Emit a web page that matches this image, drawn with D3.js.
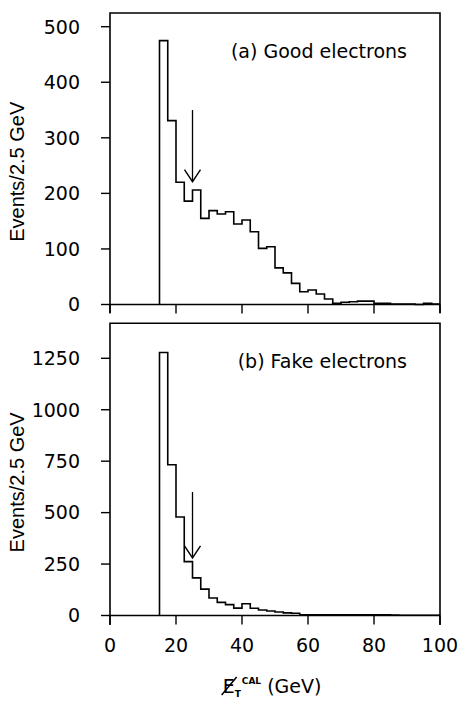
<!DOCTYPE html>
<html>
<head>
<meta charset="utf-8">
<script src="https://cdn.jsdelivr.net/npm/d3@7"></script>
<style>
  html, body { margin: 0; padding: 0; background: #fff; }
  svg { display: block; }
  text { fill: #000; }
</style>
</head>
<body>
<svg id="chart" width="459" height="702"></svg>
<script>
// Missing transverse energy (calorimeter), 2.5 GeV bins starting at 15 GeV
const binWidth = 2.5;
const binStart = 15;

// (a) Good electrons: events per bin
const goodCounts = [475, 331, 220, 186, 206, 155, 169, 163, 167, 145, 152, 131,
                    101, 104, 66, 57, 38, 23, 26, 19, 10, 2, 4, 5, 6, 6, 2, 2,
                    1, 1, 1, 0, 2, 1];

// (b) Fake electrons: events per bin
const fakeCounts = [1278, 733, 479, 262, 183, 128, 85, 64, 53, 36, 57, 35,
                    27, 22, 17, 13, 11, 4, 3, 3, 3, 3, 3, 3, 3, 3, 3, 3,
                    2, 1, 1, 1, 1, 1];

// Cut arrows: [x (GeV), tail (events), tip (events)]
const goodArrow = [25, 350, 221];
const fakeArrow = [25, 600, 280];

const xTicks = [0, 20, 40, 60, 80, 100];
const goodYTicks = [0, 100, 200, 300, 400, 500];
const fakeYTicks = [0, 250, 500, 750, 1000, 1250];

const panelLabels = ["(a) Good electrons", "(b) Fake electrons"];
const yTitle = "Events/2.5 GeV";

const svg = d3.select("#chart");
const FONT = "'DejaVu Sans', sans-serif";

const x = d3.scaleLinear().domain([0, 100]).range([110, 440]);

const panels = [
  { counts: goodCounts, arrow: goodArrow, yTicks: goodYTicks, label: panelLabels[0],
    y: d3.scaleLinear().domain([0, 500]).range([304.5, 26.7]),
    top: 13, bottom: 313, showXLabels: false },
  { counts: fakeCounts, arrow: fakeArrow, yTicks: fakeYTicks, label: panelLabels[1],
    y: d3.scaleLinear().domain([0, 1250]).range([615.5, 358.3]),
    top: 323.3, bottom: 625, showXLabels: true }
];

panels.forEach(p => {
  const g = svg.append("g");
  const y0 = p.y(0);

  // frame: top and sides, zero line as the base
  g.append("path")
    .attr("d", `M${x(0)},${p.bottom}V${p.top}H${x(100)}V${p.bottom}`)
    .attr("fill", "none").attr("stroke", "#000").attr("stroke-width", 1.6);
  g.append("line")
    .attr("x1", x(0)).attr("x2", x(100)).attr("y1", y0).attr("y2", y0)
    .attr("stroke", "#000").attr("stroke-width", 1.6);

  // x ticks hanging below the zero line
  g.selectAll(".xt").data(xTicks).enter().append("line")
    .attr("x1", d => x(d)).attr("x2", d => x(d))
    .attr("y1", y0).attr("y2", y0 + 9)
    .attr("stroke", "#000").attr("stroke-width", 1.4);

  if (p.showXLabels) {
    g.selectAll(".xl").data(xTicks).enter().append("text")
      .attr("x", d => x(d)).attr("y", y0 + 36)
      .attr("text-anchor", "middle")
      .style("font-family", FONT).style("font-size", "19px")
      .text(d => d);
  }

  // y ticks pointing outward on the left
  g.selectAll(".yt").data(p.yTicks).enter().append("line")
    .attr("x1", x(0) - 9).attr("x2", x(0))
    .attr("y1", d => p.y(d)).attr("y2", d => p.y(d))
    .attr("stroke", "#000").attr("stroke-width", 1.4);
  g.selectAll(".yl").data(p.yTicks).enter().append("text")
    .attr("x", 80).attr("y", d => p.y(d))
    .attr("text-anchor", "end").attr("dy", "0.36em")
    .style("font-family", FONT).style("font-size", "19px")
    .text(d => d);

  // y-axis title
  const cy = (p.top + y0) / 2 + 13;
  g.append("text")
    .attr("transform", `translate(24,${cy}) rotate(-90)`)
    .attr("text-anchor", "middle")
    .style("font-family", "'Liberation Sans', sans-serif").style("font-size", "20px")
    .text(yTitle);

  // histogram as a stepped outline
  const pts = [[binStart, 0]];
  p.counts.forEach((c, i) => pts.push([binStart + i * binWidth, c]));
  pts.push([binStart + p.counts.length * binWidth, p.counts[p.counts.length - 1]]);
  const step = d3.line()
    .x(d => x(d[0])).y(d => p.y(d[1]))
    .curve(d3.curveStepAfter);
  g.append("path")
    .attr("d", step(pts))
    .attr("fill", "none").attr("stroke", "#000").attr("stroke-width", 1.6)
    .attr("stroke-linejoin", "miter");

  // cut arrow
  const [ax, aTail, aTip] = p.arrow;
  const tipY = p.y(aTip);
  g.append("line")
    .attr("x1", x(ax)).attr("x2", x(ax))
    .attr("y1", p.y(aTail)).attr("y2", tipY)
    .attr("stroke", "#000").attr("stroke-width", 1.3);
  g.append("path")
    .attr("d", `M${x(ax) - 8},${tipY - 12}L${x(ax)},${tipY}L${x(ax) + 8},${tipY - 12}`)
    .attr("fill", "none").attr("stroke", "#000").attr("stroke-width", 1.4);

  // panel label
  g.append("text")
    .attr("x", 407).attr("y", p.top + 45)
    .attr("text-anchor", "end")
    .style("font-family", FONT).style("font-size", "19px")
    .text(p.label);
});

// x-axis title: missing E_T with calorimeter superscript
const title = svg.append("g");
const t = title.append("text")
  .attr("x", 272).attr("y", 693)
  .attr("text-anchor", "middle")
  .style("font-family", FONT).style("font-size", "19px");
t.append("tspan").attr("id", "etE").text("E");
t.append("tspan").attr("dy", 4).style("font-size", "9px").style("font-weight", "bold").text("T");
t.append("tspan").attr("dy", -13).attr("dx", 1).style("font-size", "9px").style("font-weight", "bold").text("CAL");
t.append("tspan").attr("dy", 9).text(" (GeV)");

// slash through the E
const eNode = document.getElementById("etE");
const ext = eNode.getExtentOfChar(0);
title.append("line")
  .attr("x1", ext.x - 1).attr("y1", 695)
  .attr("x2", ext.x + ext.width + 2).attr("y2", 677)
  .attr("stroke", "#000").attr("stroke-width", 1.5);
</script>
</body>
</html>
